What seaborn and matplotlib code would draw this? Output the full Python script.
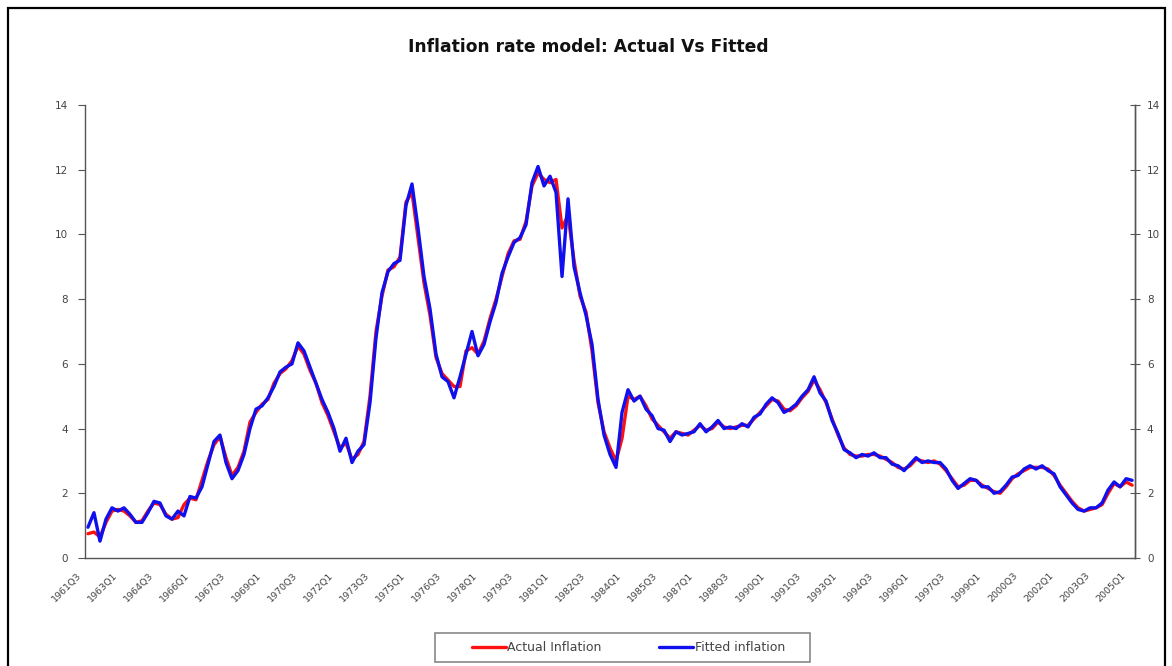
import numpy as np
import pandas as pd
import matplotlib
matplotlib.use("Agg")
import matplotlib.pyplot as plt
import matplotlib.transforms as mtransforms
from matplotlib.patches import Rectangle
import seaborn as sns

# Quarterly periods 1961Q3 .. 2005Q1
quarters = [f"{y}Q{q}" for y in range(1961, 2006) for q in range(1, 5)]
quarters = quarters[quarters.index("1961Q3"):quarters.index("2005Q1") + 1]

actual_inflation = [
    0.75, 0.80, 0.65, 1.10, 1.45, 1.50, 1.45, 1.30, 1.10, 1.15,
    1.45, 1.70, 1.65, 1.35, 1.20, 1.25, 1.65, 1.85, 1.80, 2.40,
    3.00, 3.50, 3.75, 3.10, 2.55, 2.80, 3.30, 4.20, 4.50, 4.75,
    4.90, 5.40, 5.70, 5.85, 6.10, 6.55, 6.30, 5.80, 5.40, 4.80,
    4.40, 3.90, 3.40, 3.55, 3.05, 3.20, 3.60, 5.00, 7.00, 8.10,
    8.90, 9.00, 9.30, 11.00, 11.30, 9.90, 8.50, 7.50, 6.20, 5.70,
    5.50, 5.30, 5.30, 6.40, 6.50, 6.30, 6.70, 7.40, 8.00, 8.70,
    9.40, 9.80, 9.85, 10.40, 11.50, 11.90, 11.70, 11.60, 11.70, 10.20,
    10.60, 9.20, 8.10, 7.60, 6.40, 4.80, 3.90, 3.40, 3.00, 3.70,
    5.00, 4.90, 5.00, 4.70, 4.30, 4.10, 3.90, 3.70, 3.90, 3.85,
    3.80, 3.95, 4.10, 3.95, 4.00, 4.20, 4.05, 4.00, 4.05, 4.10,
    4.10, 4.30, 4.50, 4.70, 4.90, 4.85, 4.60, 4.55, 4.70, 4.95,
    5.15, 5.50, 5.20, 4.80, 4.30, 3.80, 3.40, 3.20, 3.15, 3.15,
    3.20, 3.20, 3.15, 3.05, 2.95, 2.80, 2.75, 2.85, 3.05, 3.00,
    2.95, 3.00, 2.90, 2.70, 2.45, 2.20, 2.25, 2.40, 2.40, 2.25,
    2.15, 2.05, 2.00, 2.20, 2.45, 2.60, 2.70, 2.80, 2.80, 2.80,
    2.75, 2.55, 2.25, 2.00, 1.75, 1.55, 1.45, 1.50, 1.55, 1.65,
    2.00, 2.30, 2.20, 2.35, 2.25,
]

fitted_inflation = [
    0.95, 1.40, 0.52, 1.20, 1.55, 1.45, 1.55, 1.35, 1.10, 1.10,
    1.40, 1.75, 1.70, 1.30, 1.20, 1.45, 1.30, 1.90, 1.85, 2.20,
    2.90, 3.60, 3.80, 2.95, 2.45, 2.70, 3.20, 4.00, 4.60, 4.70,
    4.95, 5.30, 5.75, 5.90, 6.00, 6.65, 6.40, 5.90, 5.40, 4.90,
    4.50, 4.00, 3.30, 3.70, 2.95, 3.30, 3.50, 4.80, 6.80, 8.20,
    8.85, 9.10, 9.20, 10.90, 11.56, 10.20, 8.70, 7.70, 6.30, 5.60,
    5.45, 4.95, 5.60, 6.30, 7.00, 6.25, 6.60, 7.30, 7.90, 8.80,
    9.30, 9.75, 9.90, 10.30, 11.60, 12.10, 11.50, 11.80, 11.30, 8.70,
    11.10, 9.00, 8.20, 7.50, 6.60, 4.90, 3.80, 3.20, 2.80, 4.50,
    5.20, 4.85, 5.00, 4.60, 4.40, 4.00, 3.95, 3.60, 3.90, 3.80,
    3.85, 3.90, 4.15, 3.90, 4.05, 4.25, 4.00, 4.05, 4.00, 4.15,
    4.05, 4.35, 4.45, 4.75, 4.95, 4.80, 4.50, 4.60, 4.75, 5.00,
    5.20, 5.60, 5.10, 4.85, 4.25, 3.85, 3.35, 3.25, 3.10, 3.20,
    3.15, 3.25, 3.10, 3.10, 2.90, 2.85, 2.70, 2.90, 3.10, 2.95,
    3.00, 2.95, 2.95, 2.75, 2.40, 2.15, 2.30, 2.45, 2.40, 2.20,
    2.20, 2.00, 2.05, 2.25, 2.50, 2.55, 2.75, 2.85, 2.75, 2.85,
    2.70, 2.60, 2.20, 1.95, 1.70, 1.50, 1.45, 1.55, 1.55, 1.70,
    2.10, 2.35, 2.20, 2.45, 2.40,
]

series_names = ["Actual Inflation", "Fitted inflation"]
series_colors = ["#ff1010", "#1010ee"]
y_ticks = [0, 2, 4, 6, 8, 10, 12, 14]
label_step = 6

sns.set_style("white")
plt.rcParams["font.family"] = ["DejaVu Sans"]

df = pd.DataFrame({
    "pos": np.arange(len(quarters)),
    series_names[0]: actual_inflation,
    series_names[1]: fitted_inflation,
})
long = df.melt(id_vars="pos", var_name="series", value_name="rate")

fig = plt.figure(figsize=(11.72, 6.66), dpi=100)
ax = fig.add_axes([0.0725, 0.1622, 0.896, 0.6801])

sns.lineplot(data=long, x="pos", y="rate", hue="series",
             palette=dict(zip(series_names, series_colors)),
             linewidth=2.4, ax=ax, legend=False)

n = len(quarters)
ax.set_xlim(-0.5, n - 0.5)
ax.set_ylim(0, 14)
ax.set_xlabel("")
ax.set_ylabel("")

# category labels every six quarters, slanted
label_pos = list(range(0, n, label_step))
ax.set_xticks(label_pos)
ax.set_xticks(np.arange(-0.5, n, 1), minor=True)
ax.tick_params(axis="x", which="major", length=0, pad=9)
ax.tick_params(axis="x", which="minor", length=4, width=0.8, color="#555555",
               direction="out")
ax.set_xticklabels([quarters[i] for i in label_pos], rotation=45, ha="right",
                   rotation_mode="anchor", fontsize=6.8, color="#444444")
shift = mtransforms.ScaledTranslation(-0.11, 0, fig.dpi_scale_trans)
for lab in ax.get_xticklabels():
    lab.set_transform(lab.get_transform() + shift)

ax.set_yticks(y_ticks)
ax.tick_params(axis="y", which="major", length=5, width=0.8, color="#555555",
               direction="out", left=True, pad=7)
ax.set_yticklabels([str(v) for v in y_ticks], fontsize=7.5, color="#444444")

for side in ["left", "bottom", "right"]:
    ax.spines[side].set_color("#555555")
    ax.spines[side].set_linewidth(1.0)
ax.spines["top"].set_visible(False)

ax2 = ax.twinx()
ax2.set_ylim(0, 14)
ax2.set_yticks(y_ticks)
ax2.tick_params(axis="y", length=7, width=0.8, color="#555555", direction="inout", pad=5)
ax2.set_yticklabels([str(v) for v in y_ticks], fontsize=7.5, color="#444444")
for side in ["left", "bottom", "top"]:
    ax2.spines[side].set_visible(False)
ax2.spines["right"].set_color("#555555")
ax2.spines["right"].set_linewidth(1.0)

fig.text(0.502, 0.929, "Inflation rate model: Actual Vs Fitted", ha="center",
         va="center", fontsize=12.3, fontweight="bold", color="#111111")

handles = [plt.Line2D([], [], color=c, linewidth=2.4) for c in series_colors]
leg = fig.legend(handles, series_names, loc="center",
                 bbox_to_anchor=(628.5 / 1172, 1 - 647.5 / 666), ncol=2,
                 frameon=False, fontsize=9, handlelength=2.7, handletextpad=0.12,
                 columnspacing=4.6, borderpad=0.2)
for t in leg.get_texts():
    t.set_color("#444444")

# legend frame
fig.patches.append(Rectangle((435 / 1172, 1 - 662 / 666), 375 / 1172, 29 / 666,
                             transform=fig.transFigure, fill=False,
                             edgecolor="#888888", linewidth=1.2))

# chart border
fig.patches.append(Rectangle((0.007, -0.02), 0.987, 1.008, transform=fig.transFigure,
                             fill=False, edgecolor="black", linewidth=1.6))

fig.savefig("out.png", dpi=100)
